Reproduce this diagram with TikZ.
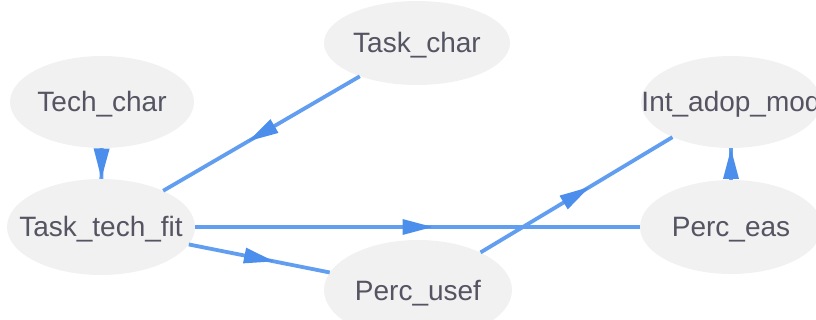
\documentclass[tikz,border=0pt]{standalone}
\usepackage{fontspec}
\setmainfont{Liberation Sans}
\usetikzlibrary{shapes.geometric,decorations.markings}

\definecolor{nodefill}{RGB}{241,241,241}
\definecolor{edgeblue}{RGB}{98,158,240}
\definecolor{tipblue}{RGB}{76,142,236}
\definecolor{labelgray}{RGB}{84,84,98}

% zero-width label so the ellipse size comes only from the minimum sizes
\newcommand{\lbl}[1]{\makebox[0pt][c]{#1}}

\begin{document}
\begin{tikzpicture}[x=1pt,y=-1pt,
  vnode/.style={ellipse, fill=nodefill, inner sep=0pt,
    text height=20pt, text depth=0pt, text=labelgray,
    font=\fontsize{28}{34}\selectfont},
  link/.style={draw=edgeblue, line width=3.8pt, postaction={decorate},
    decoration={markings, mark=at position 0.5 with
      {\fill[tipblue] (15pt,0pt) -- (-15pt,8pt) -- (-15pt,-8pt) -- cycle;}}}
]
\useasboundingbox (0,0) rectangle (816,320);
\clip (0,0) rectangle (816,320);

% variables
\node[vnode, minimum width=184pt, minimum height=92pt]  (tech)  at (102,102) {\lbl{Tech\_char}};
\node[vnode, minimum width=188pt, minimum height=96pt]  (ttf)   at (101,227) {\lbl{Task\_tech\_fit}};
\node[vnode, minimum width=186pt, minimum height=84pt]  (task)  at (417,43)  {\lbl{Task\_char}};
\node[vnode, minimum width=180pt, minimum height=92pt]  (intad) at (731,102) {\lbl{Int\_adop\_mod}};
\node[vnode, minimum width=182pt, minimum height=94pt]  (peas)  at (731,227) {\lbl{Perc\_eas}};
\node[vnode, minimum width=188pt, minimum height=100pt] (pusef) at (418,290) {\lbl{Perc\_usef}};

% paths
\draw[link] (tech)  -- (ttf);
\draw[link] (task)  -- (ttf);
\draw[link] (ttf)   -- (peas);
\draw[link] (ttf)   -- (pusef);
\draw[link] (pusef) -- (intad);
\draw[link] (peas)  -- (intad);
\end{tikzpicture}
\end{document}
